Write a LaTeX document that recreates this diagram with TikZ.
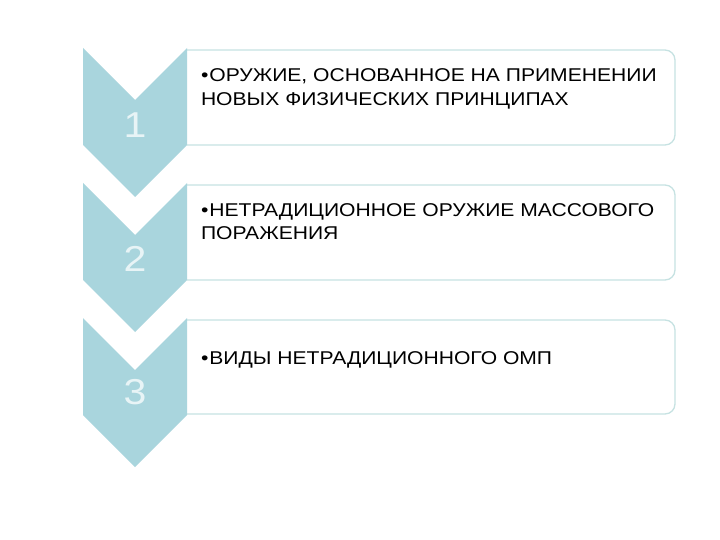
\documentclass[tikz,border=0pt]{standalone}
\usepackage{fontspec}
\setmainfont{Liberation Sans}[FakeStretch=1.14]
\definecolor{chevfill}{HTML}{A9D5DD}
\definecolor{boxline}{HTML}{C6E2E2}
\definecolor{numtext}{HTML}{E8F4F6}

\begin{document}
\begin{tikzpicture}[x=1pt,y=-1pt,
  box/.style={draw=boxline,line width=1.3pt,fill=white,rounded corners=10pt},
  chev/.style={fill=chevfill},
  num/.style={text=numtext,font=\fontsize{36}{40}\selectfont,inner sep=0,outer sep=0},
  item/.style={anchor=base west,align=left,inner sep=0,outer sep=0,font=\fontsize{18.5}{23.5}\selectfont}]
\useasboundingbox (0,0) rectangle (720,540);

\draw[box] (187,50) -- (675,50) -- (675,145) -- (187,145);
\draw[box] (187,185) -- (675,185) -- (675,280) -- (187,280);
\draw[box] (187,320) -- (675,320) -- (675,414) -- (187,414);

\fill[chev] (83,48) -- (135,100) -- (187,48) -- (187,145) -- (135,197) -- (83,145) -- cycle;
\fill[chev] (83,183) -- (135,235) -- (187,183) -- (187,280) -- (135,332) -- (83,280) -- cycle;
\fill[chev] (83,318) -- (135,370) -- (187,318) -- (187,415) -- (135,467) -- (83,415) -- cycle;

\node[num] (N1) at (135,125) {1};
\node[num] (N2) at (135,259) {2};
\node[num] (N3) at (135,392) {3};

\node[item] (T1) at (201,105.5) {•\kern1pt ОРУЖИЕ, ОСНОВАННОЕ НА ПРИМЕНЕНИИ\\НОВЫХ ФИЗИЧЕСКИХ ПРИНЦИПАХ};
\node[item] (T2) at (201,239.5) {•\kern1pt НЕТРАДИЦИОННОЕ ОРУЖИЕ МАССОВОГО\\ПОРАЖЕНИЯ};
\node[item] (T3) at (201,364) {•\kern1pt ВИДЫ НЕТРАДИЦИОННОГО ОМП};
\end{tikzpicture}
\end{document}
